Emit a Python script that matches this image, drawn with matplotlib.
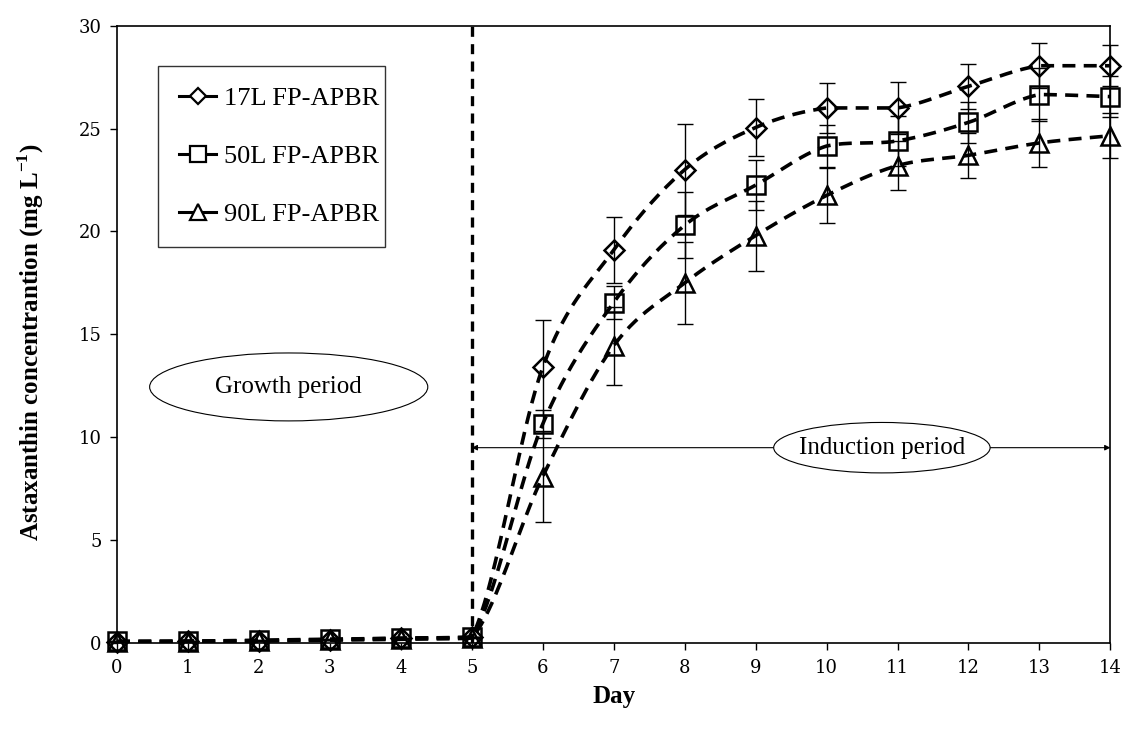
import numpy as np
import matplotlib
matplotlib.use("Agg")
import matplotlib.pyplot as plt
from matplotlib.patches import Ellipse
from matplotlib.lines import Line2D

days = [0, 1, 2, 3, 4, 5, 6, 7, 8, 9, 10, 11, 12, 13, 14]

conc_17L = [0.08, 0.1, 0.12, 0.18, 0.25, 0.3, 13.4, 19.1, 23.0, 25.05, 26.0, 26.0, 27.05, 28.05, 28.05]
err_17L = [0, 0, 0, 0, 0, 0, 2.3, 1.6, 2.2, 1.4, 1.2, 1.25, 1.1, 1.1, 1.0]

conc_50L = [0.1, 0.1, 0.15, 0.2, 0.25, 0.3, 10.65, 16.55, 20.3, 22.25, 24.15, 24.4, 25.3, 26.65, 26.55]
err_50L = [0, 0, 0, 0, 0, 0, 0.7, 0.8, 1.6, 1.2, 1.0, 1.2, 1.0, 1.3, 1.0]

conc_90L = [0.05, 0.08, 0.12, 0.15, 0.2, 0.25, 8.1, 14.45, 17.5, 19.8, 21.75, 23.2, 23.7, 24.3, 24.65]
err_90L = [0, 0, 0, 0, 0, 0, 2.2, 1.9, 2.0, 1.7, 1.35, 1.2, 1.1, 1.15, 1.1]

labels = ["17L FP-APBR", "50L FP-APBR", "90L FP-APBR"]
markers = ["D", "s", "^"]
marker_sizes = [10, 13, 13]


def smooth_curve(x, y, n=40):
    """Bezier smoothing through every point; control points are kept
    inside each segment's value range so flat stretches stay flat."""
    x = np.asarray(x, float)
    y = np.asarray(y, float)
    pts = np.column_stack([x, y])
    out = []
    for i in range(len(pts) - 1):
        p0 = pts[i - 1] if i > 0 else pts[i]
        p1 = pts[i]
        p2 = pts[i + 1]
        p3 = pts[i + 2] if i + 2 < len(pts) else pts[i + 1]
        c1 = p1 + (p2 - p0) / 6.0
        c2 = p2 - (p3 - p1) / 6.0
        lo, hi = min(p1[1], p2[1]), max(p1[1], p2[1])
        c1[1] = np.clip(c1[1], lo, hi)
        c2[1] = np.clip(c2[1], lo, hi)
        t = np.linspace(0, 1, n)[:, None]
        seg = ((1 - t) ** 3) * p1 + 3 * ((1 - t) ** 2) * t * c1 + 3 * (1 - t) * t ** 2 * c2 + t ** 3 * p2
        if i > 0:
            seg = seg[1:]
        out.append(seg)
    out = np.vstack(out)
    return out[:, 0], out[:, 1]


plt.rcParams["font.family"] = ["Liberation Serif", "DejaVu Serif"]
plt.rcParams["mathtext.fontset"] = "custom"
plt.rcParams["mathtext.rm"] = "Liberation Serif"
plt.rcParams["mathtext.bf"] = "Liberation Serif:bold"

fig = plt.figure(figsize=(11.25, 7.31), dpi=100)
ax = fig.add_axes([0.104, 0.120, 0.883, 0.845])

series = [(conc_17L, err_17L), (conc_50L, err_50L), (conc_90L, err_90L)]
for (vals, errs), mk, ms in zip(series, markers, marker_sizes):
    sx, sy = smooth_curve(days, vals)
    ax.plot(sx, sy, color="black", lw=2.6, linestyle=(0, (3.6, 2.3)), zorder=3)
    eb = ax.errorbar(days, vals, yerr=errs, fmt="none", ecolor="black", elinewidth=1.0,
                     capsize=6, capthick=1.0, zorder=2)
    for art in eb.lines[1] + eb.lines[2]:
        art.set_clip_on(False)
    ax.plot(days, vals, linestyle="none", marker=mk, markersize=ms,
            markerfacecolor="none", markeredgecolor="black", markeredgewidth=1.8,
            zorder=4, clip_on=False)

# boundary between growth and induction
ax.plot([5, 5], [0, 30], color="black", lw=2.4, linestyle=(0, (3, 2.2)), zorder=3)

# induction period arrow
ax.annotate("", xy=(14, 9.5), xytext=(5, 9.5),
            arrowprops=dict(arrowstyle="<|-|>", color="black", lw=0.8,
                            mutation_scale=8, shrinkA=0, shrinkB=0), zorder=1)
ax.add_patch(Ellipse((10.78, 9.5), 3.05, 2.45, facecolor="white", edgecolor="black",
                     lw=0.8, zorder=5))
ax.text(10.78, 9.5, "Induction period", ha="center", va="center", fontsize=18, zorder=6)

ax.add_patch(Ellipse((2.42, 12.45), 3.92, 3.3, facecolor="white", edgecolor="black",
                     lw=0.8, zorder=5))
ax.text(2.42, 12.45, "Growth period", ha="center", va="center", fontsize=18, zorder=6)

ax.set_xlim(0, 14)
ax.set_ylim(0, 30)
ax.set_xticks(range(0, 15))
ax.set_yticks(range(0, 31, 5))
ax.tick_params(axis="both", direction="out", length=5, width=1, labelsize=13, pad=6)
for lab in ax.get_xticklabels() + ax.get_yticklabels():
    lab.set_fontfamily("DejaVu Serif")
for sp in ax.spines.values():
    sp.set_linewidth(1.2)

ax.set_xlabel("Day", fontsize=18, fontweight="bold", labelpad=6)
ax.set_ylabel(r"Astaxanthin concentrantion (mg L$^{\mathbf{-1}}$)", fontsize=18,
              fontweight="bold")
ax.yaxis.set_label_coords(-0.071, 0.487)

handles = [Line2D([], [], color="black", lw=2.2, marker=mk, markersize=ms * 0.85,
                  markerfacecolor="white", markeredgecolor="black", markeredgewidth=1.6)
           for mk, ms in zip(markers, marker_sizes)]
leg = ax.legend(handles, labels, loc="upper left", bbox_to_anchor=(0.0413, 0.935, 0.2286, 0.0),
                mode="expand", fontsize=19, frameon=True, fancybox=False, edgecolor="black",
                handlelength=1.4, handletextpad=0.3, labelspacing=1.3,
                borderpad=0.8, borderaxespad=0)
leg.get_frame().set_linewidth(1.0)

fig.savefig("out.png", dpi=100)
